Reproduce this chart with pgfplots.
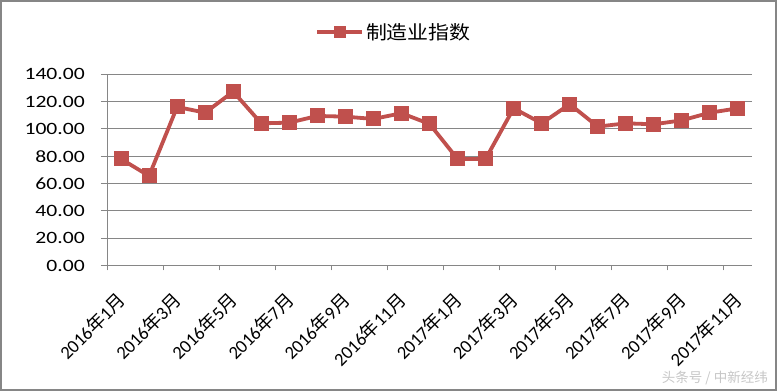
\documentclass[border=0pt]{standalone}
\usepackage{fontspec}
\setmainfont{Carlito}
\newfontfamily\cjk{Noto Sans CJK SC}
\newfontfamily\cjkleg{Noto Sans CJK SC}[FakeStretch=1.1]
\newfontfamily\ylab{Carlito}[FakeStretch=1.25]
\usepackage{pgfplots}
\pgfplotsset{compat=1.18}
\definecolor{ser}{HTML}{C0504D}
\definecolor{gridc}{HTML}{868686}
\newcommand{\ym}[2]{#1{\cjk 年}#2{\cjk 月}}
\begin{document}
\begin{tikzpicture}
\path[use as bounding box] (0,0) rectangle (777bp,391bp);
\fill[white] (0,0) rectangle (777bp,391bp);
\draw[gridc, line width=2bp] (1bp,1bp) rectangle (776bp,390bp);
\node[text=black!22, font=\cjk\fontsize{13.5bp}{15bp}\selectfont, anchor=east, inner sep=0pt] at (768bp,13bp) {头条号 / 中新经纬};
\begin{axis}[
  at={(107bp,125.5bp)}, anchor=south west,
  scale only axis, width=645bp, height=191.2bp,
  xmin=0.5, xmax=23.5, ymin=0, ymax=140,
  axis x line*=bottom, axis y line*=left,
  axis line style={gridc, line width=1bp, -},
  ytick={0,20,...,140},
  ymajorgrids, grid style={gridc, line width=1bp},
  tick align=outside, major tick length=6bp, minor tick length=5bp,
  tick style={gridc, line width=1bp},
  xtick={1,3,...,23},
  major x tick style={draw=none},
  minor xtick={0.5,2.5,...,22.5},
  xticklabels={\ym{2016}{1},\ym{2016}{3},\ym{2016}{5},\ym{2016}{7},\ym{2016}{9},\ym{2016}{11},\ym{2017}{1},\ym{2017}{3},\ym{2017}{5},\ym{2017}{7},\ym{2017}{9},\ym{2017}{11}},
  xticklabel style={font=\fontsize{18.5bp}{20bp}\selectfont, inner sep=0pt, xshift=1bp, yshift=-25bp, rotate=45, anchor=east},
  yticklabel style={font=\ylab\fontsize{17.3bp}{19bp}\selectfont, inner sep=0pt, anchor=east, xshift=-16bp},
  /pgf/number format/.cd, fixed, fixed zerofill, precision=2, assume math mode=true,
  /pgfplots/.cd,
  clip=false,
  legend style={at={(axis description cs:0.3225,1.221)}, anchor=west, draw=none, fill=none, inner sep=0pt,
    font=\cjkleg\fontsize{19bp}{21bp}\selectfont, nodes={inner sep=2bp}},
  legend image code/.code={
    \draw[#1, mark=none] (0bp,0bp) -- (45bp,0bp);
    \draw[#1, only marks, mark size=5.5bp] plot coordinates {(22.5bp,0bp)};
  },
]
\addplot[color=ser, line width=3.8bp, mark=square*, mark size=7bp, mark options={fill=ser, draw=ser, line width=0pt}]
coordinates {
(1,78.0) (2,65.6) (3,116.1) (4,111.9) (5,127.3) (6,104.1) (7,104.6) (8,109.5)
(9,109.0) (10,107.3) (11,111.5) (12,103.7) (13,78.0) (14,78.0) (15,115.1) (16,104.1)
(17,118.1) (18,101.7) (19,104.1) (20,103.4) (21,106.3) (22,111.9) (23,115.1)
};
\addlegendentry{制造业指数}
\end{axis}
\end{tikzpicture}
\end{document}
